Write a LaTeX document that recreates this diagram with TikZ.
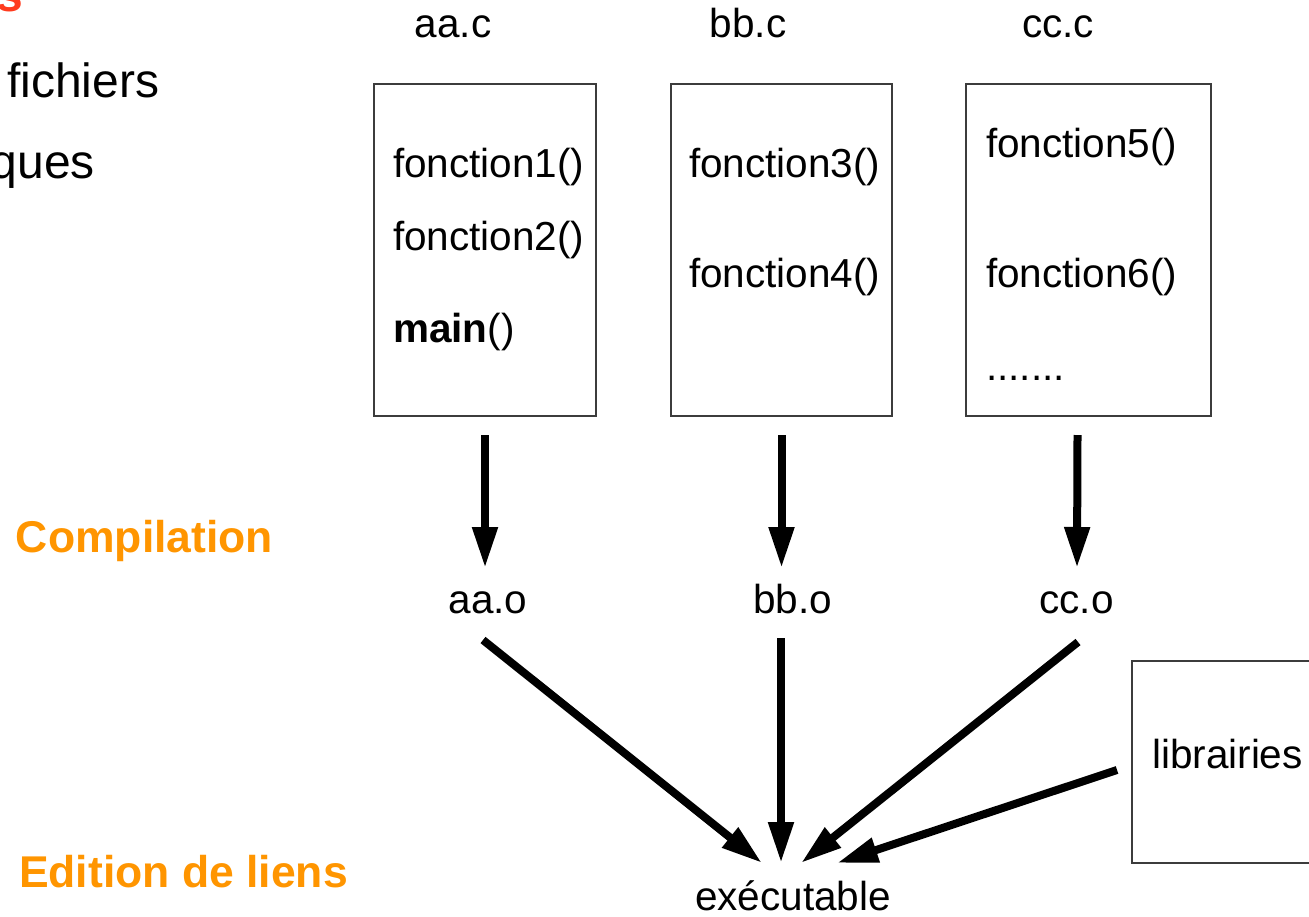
\documentclass[tikz,border=0pt]{standalone}
\usepackage{fontspec}
\setmainfont{Liberation Sans}
\usetikzlibrary{arrows.meta,calc}
\definecolor{boxline}{HTML}{3C3C3C}
\definecolor{stepred}{HTML}{FF3B1E}
\definecolor{steporange}{HTML}{FF9500}
\begin{document}
\begin{tikzpicture}[x=0.5pt,y=-0.5pt,
  every node/.style={inner sep=0pt, outer sep=0pt},
  srcbox/.style={draw=boxline, line width=0.75pt, anchor=north west},
  txt/.style={font=\fontsize{20.25pt}{24pt}\selectfont, text=black},
  fn/.style={txt, anchor=base west},
  lbl/.style={txt, anchor=base},
  side/.style={font=\fontsize{24pt}{28pt}\selectfont, anchor=base west},
  phase/.style={font=\fontsize{22.25pt}{26pt}\selectfont\bfseries, text=steporange, anchor=base west},
  flow/.style={line width=4pt, -{Triangle[length=20.5pt,width=12pt]}}
]
\useasboundingbox (0,0) rectangle (1309,916);
\clip (0,0) rectangle (1309,916);

% left margin text
\node[side, font=\fontsize{24pt}{28pt}\selectfont\bfseries, text=stepred, anchor=base east] (ttl) at (23,11) {s};
\node[side] (fich) at (7,97) {fichiers};
\node[side, anchor=base east] (ques) at (95,178) {ques};
\node[phase] (comp) at (16,552) {Compilation};
\node[phase] (edit) at (19,887) {Edition de liens};

% source file names
\node[lbl] (srcA) at (453,37) {aa.c};
\node[lbl] (srcB) at (748,37) {bb.c};
\node[lbl] (srcC) at (1058,37) {cc.c};

% source boxes
\node[srcbox, minimum width=111pt, minimum height=166pt] (boxA) at (374,84) {};
\node[srcbox, minimum width=110.5pt, minimum height=166pt] (boxB) at (671,84) {};
\node[srcbox, minimum width=122.5pt, minimum height=166pt] (boxC) at (966,84) {};

% functions in each file
\node[fn] (f1) at (393,177) {fonction1()};
\node[fn] (f2) at (393,250) {fonction2()};
\node[fn] (fm) at (393,342) {\textbf{main}()};
\node[fn] (f3) at (689,177) {fonction3()};
\node[fn] (f4) at (689,287) {fonction4()};
\node[fn] (f5) at (986,157) {fonction5()};
\node[fn] (f6) at (986,287) {fonction6()};
\node[fn] (fdots) at (986,380) {.......};

% object files
\node[lbl] (aao) at (488,613) {aa.o};
\node[lbl] (bbo) at (792.5,613) {bb.o};
\node[lbl] (cco) at (1076.5,613) {cc.o};

% libraries
\node[srcbox, minimum width=99pt, minimum height=101pt] (lib) at (1132,661) {};
\node[fn] (libtxt) at (1152,768) {librairies};

% executable
\node[lbl] (exe) at (793,910) {exécutable};

% compilation arrows
\draw[flow] ($(boxA.south)+(0,19)$) -- ($(aao.base)+(-3,-45)$);
\draw[flow] ($(boxB.south)+(0,19)$) -- ($(bbo.base)+(-11,-45)$);
\draw[flow] ($(boxC.south)+(-11,19)$) -- ($(cco.base)+(0.5,-45)$);

% link arrows
\draw[flow] ($(aao.base)+(-5,27)$) -- ($(exe.base)+(-31,-47)$);
\draw[flow] ($(bbo.base)+(-11.5,25)$) -- ($(exe.base)+(-12,-47)$);
\draw[flow] ($(cco.base)+(1.5,29)$) -- ($(exe.base)+(8,-47)$);
\draw[flow] ($(libtxt.base west)+(-35,2)$) -- ($(exe.base)+(44,-47)$);
\end{tikzpicture}
\end{document}
